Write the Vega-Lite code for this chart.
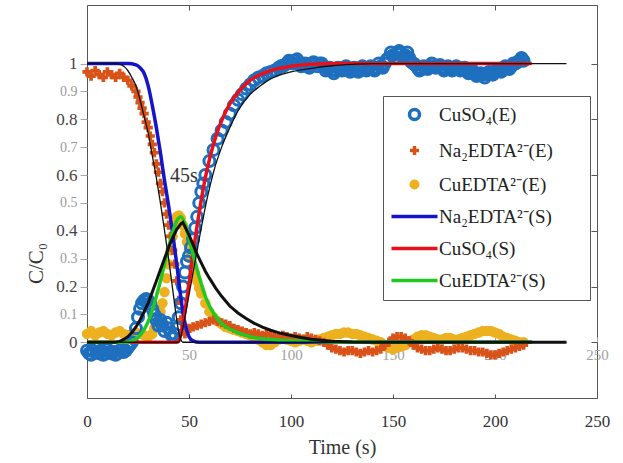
{
 "$schema": "https://vega.github.io/schema/vega-lite/v6.json",
 "width": 510, "height": 393,
 "autosize": {"type": "none"},
 "padding": {"left": 87, "top": 5, "right": 26, "bottom": 65},
 "background": "white",
 "config": {
  "view": {"stroke": "#555", "strokeWidth": 1},
  "axis": {"grid": false, "domain": false, "labelFont": "Liberation Serif", "titleFont": "Liberation Serif", "titleFontWeight": "normal"}
 },
 "datasets": {
  "cuE": [{"t":0,"v":-0.03},{"t":1,"v":-0.04},{"t":2,"v":-0.045},{"t":3,"v":-0.03},{"t":4,"v":-0.02},{"t":5,"v":-0.035},{"t":6,"v":-0.04},{"t":7,"v":-0.03},{"t":8,"v":-0.045},{"t":9,"v":-0.04},{"t":10,"v":-0.025},{"t":11,"v":-0.035},{"t":12,"v":-0.04},{"t":13,"v":-0.035},{"t":14,"v":-0.045},{"t":15,"v":-0.04},{"t":16,"v":-0.03},{"t":17,"v":-0.025},{"t":18,"v":-0.035},{"t":19,"v":-0.03},{"t":20,"v":-0.02},{"t":21,"v":-0.01},{"t":22,"v":0.0},{"t":24,"v":0.05},{"t":25,"v":0.09},{"t":26,"v":0.12},{"t":27,"v":0.14},{"t":28,"v":0.15},{"t":29,"v":0.155},{"t":30,"v":0.15},{"t":31,"v":0.14},{"t":32,"v":0.12},{"t":33,"v":0.1},{"t":34,"v":0.08},{"t":35,"v":0.06},{"t":36,"v":0.08},{"t":37,"v":0.06},{"t":38,"v":0.04},{"t":39,"v":0.07},{"t":40,"v":0.05},{"t":41,"v":0.03},{"t":42,"v":0.02},{"t":43,"v":0.03},{"t":44,"v":0.05},{"t":45,"v":0.09},{"t":46,"v":0.14},{"t":47,"v":0.2},{"t":48,"v":0.25},{"t":49,"v":0.29},{"t":50,"v":0.31},{"t":51,"v":0.34},{"t":52,"v":0.37},{"t":53,"v":0.41},{"t":54,"v":0.45},{"t":55,"v":0.5},{"t":56,"v":0.54},{"t":57,"v":0.57},{"t":58,"v":0.6},{"t":60,"v":0.65},{"t":62,"v":0.69},{"t":64,"v":0.73},{"t":66,"v":0.76},{"t":68,"v":0.79},{"t":70,"v":0.82},{"t":72,"v":0.85},{"t":74,"v":0.87},{"t":76,"v":0.89},{"t":78,"v":0.91},{"t":80,"v":0.925},{"t":82,"v":0.94},{"t":84,"v":0.95},{"t":86,"v":0.955},{"t":88,"v":0.965},{"t":90,"v":0.97},{"t":92,"v":0.975},{"t":94,"v":0.985},{"t":95,"v":0.99},{"t":96,"v":0.99},{"t":97,"v":0.995},{"t":98,"v":1.0},{"t":99,"v":1.01},{"t":100,"v":1.005},{"t":101,"v":1.0},{"t":102,"v":1.01},{"t":103,"v":1.015},{"t":104,"v":1.0},{"t":105,"v":0.99},{"t":106,"v":0.995},{"t":107,"v":1.0},{"t":108,"v":0.99},{"t":109,"v":0.985},{"t":110,"v":0.995},{"t":111,"v":1.005},{"t":112,"v":1.0},{"t":113,"v":0.99},{"t":114,"v":1.0},{"t":115,"v":1.0},{"t":116,"v":0.99},{"t":117,"v":0.975},{"t":118,"v":0.98},{"t":119,"v":0.985},{"t":120,"v":0.975},{"t":121,"v":0.965},{"t":122,"v":0.975},{"t":123,"v":0.985},{"t":124,"v":0.98},{"t":125,"v":0.975},{"t":126,"v":0.985},{"t":127,"v":0.99},{"t":128,"v":0.98},{"t":129,"v":0.97},{"t":130,"v":0.975},{"t":131,"v":0.985},{"t":132,"v":0.975},{"t":133,"v":0.97},{"t":134,"v":0.98},{"t":135,"v":0.99},{"t":136,"v":0.985},{"t":137,"v":0.975},{"t":138,"v":0.98},{"t":139,"v":0.99},{"t":140,"v":0.98},{"t":141,"v":0.975},{"t":142,"v":0.985},{"t":143,"v":1.0},{"t":144,"v":0.99},{"t":145,"v":0.985},{"t":146,"v":1.0},{"t":147,"v":1.015},{"t":148,"v":1.02},{"t":149,"v":1.04},{"t":150,"v":1.03},{"t":151,"v":1.02},{"t":152,"v":1.035},{"t":153,"v":1.045},{"t":154,"v":1.035},{"t":155,"v":1.025},{"t":156,"v":1.03},{"t":157,"v":1.04},{"t":158,"v":1.02},{"t":159,"v":1.005},{"t":160,"v":1.0},{"t":161,"v":0.995},{"t":162,"v":0.985},{"t":163,"v":0.975},{"t":164,"v":0.98},{"t":165,"v":0.99},{"t":166,"v":0.985},{"t":167,"v":0.98},{"t":168,"v":0.99},{"t":169,"v":1.0},{"t":170,"v":0.99},{"t":171,"v":0.985},{"t":172,"v":0.99},{"t":173,"v":0.995},{"t":174,"v":0.985},{"t":175,"v":0.975},{"t":176,"v":0.98},{"t":177,"v":0.99},{"t":178,"v":0.98},{"t":179,"v":0.975},{"t":180,"v":0.985},{"t":181,"v":0.99},{"t":182,"v":0.985},{"t":183,"v":0.975},{"t":184,"v":0.98},{"t":185,"v":0.985},{"t":186,"v":0.975},{"t":187,"v":0.965},{"t":188,"v":0.97},{"t":189,"v":0.975},{"t":190,"v":0.965},{"t":191,"v":0.955},{"t":192,"v":0.96},{"t":193,"v":0.965},{"t":194,"v":0.96},{"t":195,"v":0.95},{"t":196,"v":0.96},{"t":197,"v":0.97},{"t":198,"v":0.965},{"t":199,"v":0.96},{"t":200,"v":0.97},{"t":201,"v":0.98},{"t":202,"v":0.975},{"t":203,"v":0.97},{"t":204,"v":0.98},{"t":205,"v":0.99},{"t":206,"v":0.985},{"t":207,"v":0.98},{"t":208,"v":0.99},{"t":209,"v":1.0},{"t":210,"v":1.0},{"t":211,"v":1.005},{"t":212,"v":1.01},{"t":213,"v":1.02},{"t":214,"v":1.01}],
  "naE": [{"t":0,"v":0.97},{"t":2,"v":0.955},{"t":4,"v":0.975},{"t":6,"v":0.96},{"t":8,"v":0.95},{"t":10,"v":0.97},{"t":12,"v":0.96},{"t":14,"v":0.95},{"t":16,"v":0.965},{"t":18,"v":0.95},{"t":20,"v":0.94},{"t":22,"v":0.92},{"t":24,"v":0.9},{"t":25,"v":0.88},{"t":26,"v":0.86},{"t":27,"v":0.84},{"t":28,"v":0.82},{"t":29,"v":0.79},{"t":30,"v":0.77},{"t":31,"v":0.74},{"t":32,"v":0.71},{"t":33,"v":0.68},{"t":34,"v":0.64},{"t":35,"v":0.61},{"t":36,"v":0.57},{"t":37,"v":0.54},{"t":38,"v":0.5},{"t":39,"v":0.46},{"t":40,"v":0.42},{"t":41,"v":0.38},{"t":42,"v":0.33},{"t":43,"v":0.28},{"t":44,"v":0.22},{"t":45,"v":0.15},{"t":46,"v":0.08},{"t":47,"v":0.04},{"t":48,"v":0.03},{"t":49,"v":0.04},{"t":50,"v":0.05},{"t":52,"v":0.055},{"t":54,"v":0.06},{"t":56,"v":0.065},{"t":58,"v":0.07},{"t":60,"v":0.075},{"t":62,"v":0.08},{"t":64,"v":0.075},{"t":66,"v":0.07},{"t":68,"v":0.065},{"t":70,"v":0.06},{"t":72,"v":0.05},{"t":74,"v":0.045},{"t":76,"v":0.04},{"t":78,"v":0.035},{"t":80,"v":0.03},{"t":82,"v":0.035},{"t":84,"v":0.03},{"t":86,"v":0.025},{"t":88,"v":0.03},{"t":90,"v":0.025},{"t":92,"v":0.02},{"t":94,"v":0.02},{"t":96,"v":0.025},{"t":98,"v":0.02},{"t":100,"v":0.015},{"t":102,"v":0.02},{"t":104,"v":0.015},{"t":106,"v":0.01},{"t":108,"v":0.02},{"t":110,"v":0.015},{"t":112,"v":0.01},{"t":114,"v":0.005},{"t":116,"v":0.0},{"t":118,"v":-0.01},{"t":120,"v":-0.02},{"t":122,"v":-0.025},{"t":124,"v":-0.03},{"t":126,"v":-0.035},{"t":128,"v":-0.03},{"t":130,"v":-0.03},{"t":132,"v":-0.035},{"t":134,"v":-0.04},{"t":136,"v":-0.035},{"t":138,"v":-0.03},{"t":140,"v":-0.035},{"t":142,"v":-0.03},{"t":144,"v":-0.025},{"t":146,"v":-0.01},{"t":148,"v":0.0},{"t":150,"v":0.015},{"t":152,"v":0.02},{"t":154,"v":0.02},{"t":156,"v":0.015},{"t":158,"v":0.005},{"t":160,"v":-0.01},{"t":162,"v":-0.02},{"t":164,"v":-0.025},{"t":166,"v":-0.03},{"t":168,"v":-0.03},{"t":170,"v":-0.025},{"t":172,"v":-0.02},{"t":174,"v":-0.025},{"t":176,"v":-0.03},{"t":178,"v":-0.03},{"t":180,"v":-0.025},{"t":182,"v":-0.02},{"t":184,"v":-0.02},{"t":186,"v":-0.025},{"t":188,"v":-0.03},{"t":190,"v":-0.03},{"t":192,"v":-0.035},{"t":194,"v":-0.035},{"t":196,"v":-0.04},{"t":198,"v":-0.045},{"t":200,"v":-0.045},{"t":202,"v":-0.04},{"t":204,"v":-0.035},{"t":206,"v":-0.03},{"t":208,"v":-0.025},{"t":210,"v":-0.02},{"t":212,"v":-0.015},{"t":214,"v":-0.01}],
  "ceE": [{"t":0,"v":0.03},{"t":2,"v":0.04},{"t":4,"v":0.025},{"t":6,"v":0.035},{"t":8,"v":0.04},{"t":10,"v":0.03},{"t":12,"v":0.025},{"t":14,"v":0.035},{"t":16,"v":0.04},{"t":18,"v":0.03},{"t":20,"v":0.025},{"t":22,"v":0.03},{"t":24,"v":0.035},{"t":26,"v":0.03},{"t":28,"v":0.025},{"t":30,"v":0.02},{"t":32,"v":0.03},{"t":33,"v":0.05},{"t":34,"v":0.07},{"t":35,"v":0.09},{"t":36,"v":0.11},{"t":37,"v":0.14},{"t":38,"v":0.18},{"t":39,"v":0.23},{"t":40,"v":0.28},{"t":41,"v":0.33},{"t":42,"v":0.38},{"t":43,"v":0.42},{"t":44,"v":0.45},{"t":45,"v":0.455},{"t":46,"v":0.445},{"t":47,"v":0.42},{"t":48,"v":0.39},{"t":49,"v":0.36},{"t":50,"v":0.33},{"t":51,"v":0.3},{"t":52,"v":0.27},{"t":53,"v":0.245},{"t":54,"v":0.22},{"t":55,"v":0.195},{"t":56,"v":0.175},{"t":58,"v":0.14},{"t":60,"v":0.11},{"t":62,"v":0.09},{"t":64,"v":0.075},{"t":66,"v":0.065},{"t":68,"v":0.055},{"t":70,"v":0.05},{"t":72,"v":0.045},{"t":74,"v":0.04},{"t":76,"v":0.035},{"t":78,"v":0.03},{"t":80,"v":0.025},{"t":82,"v":0.02},{"t":84,"v":0.01},{"t":86,"v":0.0},{"t":88,"v":-0.01},{"t":90,"v":-0.01},{"t":92,"v":0.0},{"t":94,"v":0.01},{"t":96,"v":0.015},{"t":98,"v":0.01},{"t":100,"v":0.005},{"t":102,"v":0.0},{"t":104,"v":0.005},{"t":106,"v":0.01},{"t":108,"v":0.005},{"t":110,"v":0.0},{"t":112,"v":0.005},{"t":114,"v":0.01},{"t":116,"v":0.015},{"t":118,"v":0.02},{"t":120,"v":0.025},{"t":122,"v":0.03},{"t":124,"v":0.03},{"t":126,"v":0.035},{"t":128,"v":0.035},{"t":130,"v":0.03},{"t":132,"v":0.03},{"t":134,"v":0.025},{"t":136,"v":0.02},{"t":138,"v":0.015},{"t":140,"v":0.01},{"t":142,"v":0.005},{"t":144,"v":0.0},{"t":146,"v":-0.01},{"t":148,"v":-0.02},{"t":150,"v":-0.025},{"t":152,"v":-0.02},{"t":154,"v":-0.015},{"t":156,"v":-0.01},{"t":158,"v":0.0},{"t":160,"v":0.01},{"t":162,"v":0.02},{"t":164,"v":0.025},{"t":166,"v":0.025},{"t":168,"v":0.02},{"t":170,"v":0.015},{"t":172,"v":0.01},{"t":174,"v":0.01},{"t":176,"v":0.015},{"t":178,"v":0.015},{"t":180,"v":0.01},{"t":182,"v":0.01},{"t":184,"v":0.015},{"t":186,"v":0.02},{"t":188,"v":0.025},{"t":190,"v":0.03},{"t":192,"v":0.035},{"t":194,"v":0.04},{"t":196,"v":0.04},{"t":198,"v":0.04},{"t":200,"v":0.035},{"t":202,"v":0.03},{"t":204,"v":0.02},{"t":206,"v":0.015},{"t":208,"v":0.01},{"t":210,"v":0.005},{"t":212,"v":0.0},{"t":214,"v":0.0}],
  "naS": [{"t":0,"v":1},{"t":20,"v":1},{"t":24,"v":0.995},{"t":26,"v":0.985},{"t":28,"v":0.965},{"t":30,"v":0.92},{"t":32,"v":0.85},{"t":34,"v":0.77},{"t":36,"v":0.68},{"t":38,"v":0.58},{"t":40,"v":0.49},{"t":42,"v":0.39},{"t":44,"v":0.28},{"t":46,"v":0.16},{"t":47,"v":0.11},{"t":48,"v":0.07},{"t":49,"v":0.04},{"t":50,"v":0.02},{"t":52,"v":0.005},{"t":55,"v":0},{"t":100,"v":0},{"t":160,"v":0},{"t":218,"v":0}],
  "cuS": [{"t":0,"v":0},{"t":44,"v":0},{"t":45,"v":0.005},{"t":46,"v":0.03},{"t":48,"v":0.11},{"t":50,"v":0.21},{"t":52,"v":0.32},{"t":54,"v":0.42},{"t":56,"v":0.51},{"t":58,"v":0.59},{"t":60,"v":0.655},{"t":63,"v":0.735},{"t":66,"v":0.795},{"t":70,"v":0.855},{"t":75,"v":0.905},{"t":80,"v":0.94},{"t":85,"v":0.96},{"t":90,"v":0.975},{"t":100,"v":0.99},{"t":110,"v":0.997},{"t":120,"v":1},{"t":218,"v":1}],
  "ceS": [{"t":0,"v":0},{"t":20,"v":0},{"t":22,"v":0.005},{"t":24,"v":0.012},{"t":26,"v":0.025},{"t":28,"v":0.045},{"t":30,"v":0.075},{"t":32,"v":0.115},{"t":34,"v":0.165},{"t":36,"v":0.22},{"t":38,"v":0.28},{"t":40,"v":0.34},{"t":42,"v":0.395},{"t":44,"v":0.435},{"t":46,"v":0.45},{"t":48,"v":0.425},{"t":50,"v":0.375},{"t":52,"v":0.315},{"t":54,"v":0.26},{"t":56,"v":0.21},{"t":58,"v":0.165},{"t":60,"v":0.13},{"t":62,"v":0.105},{"t":65,"v":0.075},{"t":68,"v":0.055},{"t":72,"v":0.04},{"t":76,"v":0.028},{"t":80,"v":0.02},{"t":90,"v":0.01},{"t":100,"v":0.005},{"t":120,"v":0.001},{"t":218,"v":0}],
  "naS2": [{"t":0,"v":1},{"t":14,"v":1},{"t":17,"v":0.995},{"t":20,"v":0.975},{"t":22,"v":0.95},{"t":24,"v":0.92},{"t":26,"v":0.87},{"t":28,"v":0.81},{"t":30,"v":0.75},{"t":32,"v":0.67},{"t":34,"v":0.59},{"t":36,"v":0.5},{"t":38,"v":0.4},{"t":40,"v":0.3},{"t":42,"v":0.19},{"t":44,"v":0.08},{"t":45,"v":0.035},{"t":46,"v":0.01},{"t":47,"v":0},{"t":235,"v":0}],
  "cuS2": [{"t":0,"v":0},{"t":45,"v":0},{"t":46,"v":0.02},{"t":48,"v":0.09},{"t":50,"v":0.17},{"t":53,"v":0.29},{"t":56,"v":0.41},{"t":59,"v":0.52},{"t":62,"v":0.61},{"t":66,"v":0.7},{"t":70,"v":0.77},{"t":74,"v":0.83},{"t":80,"v":0.89},{"t":85,"v":0.92},{"t":90,"v":0.945},{"t":100,"v":0.97},{"t":110,"v":0.983},{"t":120,"v":0.992},{"t":130,"v":0.997},{"t":140,"v":1},{"t":235,"v":1}],
  "ceS2": [{"t":0,"v":0},{"t":14,"v":0},{"t":16,"v":0.003},{"t":18,"v":0.01},{"t":20,"v":0.02},{"t":22,"v":0.035},{"t":24,"v":0.055},{"t":26,"v":0.08},{"t":28,"v":0.11},{"t":30,"v":0.14},{"t":32,"v":0.18},{"t":34,"v":0.22},{"t":36,"v":0.26},{"t":38,"v":0.3},{"t":40,"v":0.34},{"t":42,"v":0.375},{"t":44,"v":0.405},{"t":46,"v":0.425},{"t":47,"v":0.43},{"t":48,"v":0.415},{"t":50,"v":0.385},{"t":52,"v":0.35},{"t":54,"v":0.315},{"t":56,"v":0.285},{"t":58,"v":0.255},{"t":60,"v":0.23},{"t":63,"v":0.195},{"t":66,"v":0.165},{"t":70,"v":0.13},{"t":74,"v":0.105},{"t":78,"v":0.085},{"t":82,"v":0.068},{"t":86,"v":0.054},{"t":90,"v":0.043},{"t":95,"v":0.032},{"t":100,"v":0.024},{"t":105,"v":0.017},{"t":110,"v":0.011},{"t":115,"v":0.007},{"t":120,"v":0.004},{"t":130,"v":0.001},{"t":140,"v":0},{"t":235,"v":0}],
  "key": [{"s":"CuSO₄(E)"},{"s":"Na₂EDTA²⁻(E)"},{"s":"CuEDTA²⁻(E)"},{"s":"Na₂EDTA²⁻(S)"},{"s":"CuSO₄(S)"},{"s":"CuEDTA²⁻(S)"}]
 },
 "encoding": {
  "x": {"field": "t", "type": "quantitative", "scale": {"domain": [0, 250], "nice": false, "zero": false}, "axis": null},
  "y": {"field": "v", "type": "quantitative", "scale": {"domain": [-0.2, 1.21], "nice": false, "zero": false}, "axis": null}
 },
 "layer": [
  {
   "data": {"values": [{}]},
   "mark": {"type": "rule", "color": "#b4b4b4", "strokeWidth": 1.2},
   "encoding": {
    "x": {"datum": -21, "type": "quantitative", "scale": {"domain": [0, 250], "nice": false, "zero": false},
          "axis": {"orient": "bottom", "values": [0, 50, 100, 150, 200, 250], "title": "Time (s)", "titleFontSize": 20, "titleColor": "#333", "titlePadding": 8, "labelFontSize": 17, "labelColor": "#333", "tickSize": -4, "tickColor": "#555", "labelPadding": 19, "labelFlush": false, "labelOverlap": false}},
    "x2": {"datum": 256},
    "y": {"datum": 0, "type": "quantitative", "scale": {"domain": [-0.2, 1.21], "nice": false, "zero": false},
          "axis": {"orient": "left", "values": [0, 0.1, 0.2, 0.3, 0.4, 0.5, 0.6, 0.7, 0.8, 0.9, 1], "format": "~g", "title": "C/C₀", "titleFontSize": 21, "titleColor": "#333", "titleX": -41, "titleY": 258,
                   "labelFontSize": {"condition": {"test": "round(datum.value*10)%2===0", "value": 17}, "value": 14},
                   "labelColor": {"condition": {"test": "round(datum.value*10)%2===0", "value": "#444"}, "value": "#9a9a9a"},
                   "tickSize": 7, "tickColor": "#aaa", "labelPadding": 3, "labelOverlap": false}}
   }
  },
  {
   "data": {"name": "ceE"},
   "mark": {"type": "point", "shape": "circle", "filled": true, "color": "#EDB120", "size": 110, "opacity": 1}
  },
  {
   "data": {"name": "naE"},
   "mark": {"type": "point", "shape": "cross", "filled": true, "color": "#D95319", "size": 85, "opacity": 1}
  },
  {
   "data": {"name": "cuE"},
   "mark": {"type": "point", "shape": "circle", "filled": false, "color": "#1f6fbf", "strokeWidth": 3, "size": 120, "opacity": 1}
  },
  {
   "data": {"name": "naS"},
   "mark": {"type": "line", "color": "#1414c8", "strokeWidth": 3.5, "interpolate": "monotone"},
   "encoding": {
    "x": {"field": "t", "type": "quantitative", "scale": {"domain": [0, 250], "nice": false, "zero": false},
          "axis": {"orient": "top", "values": [50, 100, 150, 200], "labels": false, "title": null, "tickSize": -5, "tickColor": "#555"}},
    "y": {"field": "v", "type": "quantitative", "scale": {"domain": [-0.2, 1.21], "nice": false, "zero": false}, "axis": null}
   }
  },
  {
   "data": {"name": "cuS"},
   "mark": {"type": "line", "color": "#e8101a", "strokeWidth": 3.5, "interpolate": "monotone"}
  },
  {
   "data": {"name": "ceS"},
   "mark": {"type": "line", "color": "#22c822", "strokeWidth": 3.5, "interpolate": "monotone"}
  },
  {
   "data": {"name": "naS2"},
   "mark": {"type": "line", "color": "#111", "strokeWidth": 1.3, "interpolate": "monotone"}
  },
  {
   "data": {"name": "cuS2"},
   "mark": {"type": "line", "color": "#111", "strokeWidth": 1.3, "interpolate": "monotone"}
  },
  {
   "data": {"name": "ceS2"},
   "mark": {"type": "line", "color": "#111", "strokeWidth": 3, "interpolate": "linear"}
  },
  {
   "data": {"values": [{"t": 47.5, "v": 0.595, "label": "45s"}]},
   "mark": {"type": "text", "font": "Liberation Serif", "fontSize": 20, "color": "#333"},
   "encoding": {
    "x": {"field": "t", "type": "quantitative", "scale": {"domain": [0, 250], "nice": false, "zero": false},
          "axis": {"orient": "bottom", "offset": -56, "values": [50, 100, 150, 200, 250], "title": null, "labelFontSize": 15, "labelColor": "#a0a0a0", "tickSize": -5, "tickColor": "#aaa", "labelPadding": 10, "labelFlush": false, "labelOverlap": false}},
    "y": {"field": "v", "type": "quantitative", "scale": {"domain": [-0.2, 1.21], "nice": false, "zero": false},
          "axis": {"orient": "right", "values": [0, 0.2, 0.4, 0.6, 0.8, 1], "labels": false, "title": null, "tickSize": -6, "tickColor": "#555"}},
    "text": {"field": "label"}
   }
  },
  {
   "data": {"name": "key"},
   "mark": {"type": "point", "clip": true, "filled": false, "strokeWidth": 3.5, "opacity": 1},
   "encoding": {
    "x": {"datum": -100, "type": "quantitative", "scale": {"domain": [0, 250], "nice": false, "zero": false}, "axis": null},
    "y": {"datum": -1, "type": "quantitative", "scale": {"domain": [-0.2, 1.21], "nice": false, "zero": false}, "axis": null},
    "color": {"field": "s", "type": "nominal",
      "scale": {"domain": ["CuSO₄(E)", "Na₂EDTA²⁻(E)", "CuEDTA²⁻(E)", "Na₂EDTA²⁻(S)", "CuSO₄(S)", "CuEDTA²⁻(S)"],
                "range": ["#1f6fbf", "#D95319", "#EDB120", "#1414c8", "#e8101a", "#22c822"]},
      "legend": {"orient": "none", "legendX": 296, "legendY": 91, "title": null,
        "strokeColor": "#555", "fillColor": "white", "padding": 9,
        "labelFont": "Liberation Serif", "labelFontSize": 19, "labelColor": "#222", "labelLimit": 400,
        "labelExpr": "datum.label + '\u2800\u2800'",
        "symbolSize": 100, "symbolStrokeWidth": 3.5, "rowPadding": 12, "labelOffset": 28}},
    "shape": {"field": "s", "type": "nominal",
      "scale": {"domain": ["CuSO₄(E)", "Na₂EDTA²⁻(E)", "CuEDTA²⁻(E)", "Na₂EDTA²⁻(S)", "CuSO₄(S)", "CuEDTA²⁻(S)"],
                "range": ["M1.6,0A1,1 0 1,0 3.6,0A1,1 0 1,0 1.6,0", "M1.7,0H3.5M2.6,-0.9V0.9", "M2.25,0A0.35,0.35 0 1,0 2.95,0A0.35,0.35 0 1,0 2.25,0M1.95,0A0.65,0.65 0 1,0 3.25,0A0.65,0.65 0 1,0 1.95,0", "M-2,0H7.2", "M-2,0H7.2", "M-2,0H7.2"]},
      "legend": {"orient": "none", "legendX": 296, "legendY": 91, "title": null,
        "strokeColor": "#555", "fillColor": "white", "padding": 9,
        "labelFont": "Liberation Serif", "labelFontSize": 19, "labelColor": "#222", "labelLimit": 400,
        "labelExpr": "datum.label + '\u2800\u2800'",
        "symbolSize": 100, "symbolStrokeWidth": 3.5, "rowPadding": 12, "labelOffset": 28}}
   }
  }
 ],
 "resolve": {"axis": {"x": "independent", "y": "independent"}}
}
